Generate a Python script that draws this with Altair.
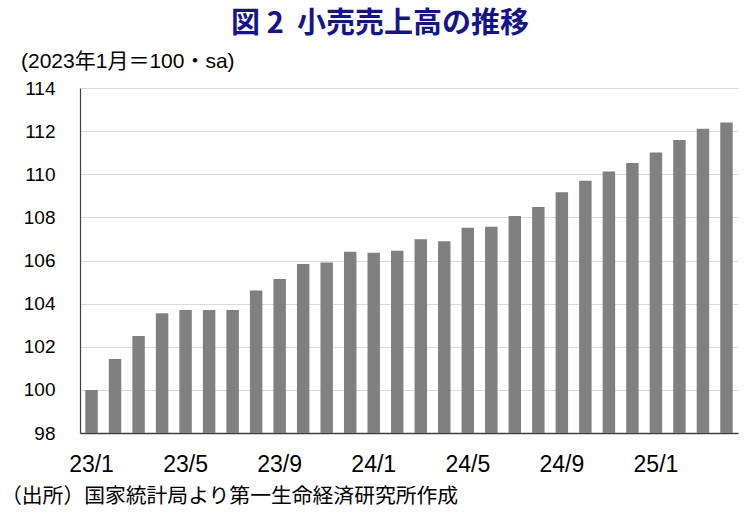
import altair as alt
import pandas as pd

months = ["23/1","23/2","23/3","23/4","23/5","23/6","23/7","23/8","23/9","23/10","23/11","23/12",
          "24/1","24/2","24/3","24/4","24/5","24/6","24/7","24/8","24/9","24/10","24/11","24/12",
          "25/1","25/2","25/3","25/4"]
values = [100.0, 101.43, 102.5, 103.55, 103.7, 103.7, 103.7, 104.61, 105.14, 105.84, 105.91, 106.41,
          106.36, 106.45, 106.98, 106.89, 107.52, 107.57, 108.06, 108.48, 109.16, 109.7, 110.13, 110.52,
          111.01, 111.59, 112.11, 112.4]
x_labels = ["23/1","23/5","23/9","24/1","24/5","24/9","25/1"]
y_ticks = [98,100,102,104,106,108,110,112,114]

title_text = "図\u00a02\u00a0\u00a0小売売上高の推移"
unit_text = "(2023年1月＝100・sa)"
source_text = "（出所）国家統計局より第一生命経済研究所作成"

df = pd.DataFrame({"month": months, "value": values})

FONT = "Liberation Sans, Noto Sans CJK JP"
JFONT = "Noto Sans CJK JP"

W, H = 658, 345

bars = alt.Chart(df).mark_bar(color="#808080", clip=True).encode(
    x=alt.X("month:N", sort=months,
            scale=alt.Scale(paddingInner=0.47, paddingOuter=0.225),
            axis=alt.Axis(values=x_labels, title=None, labelAngle=0, ticks=False,
                          labelFontSize=23, labelFont=FONT, labelColor="#000000",
                          labelPadding=20, domainColor="#404040", domainWidth=1.5)),
    y=alt.Y("value:Q", scale=alt.Scale(domain=[98, 114], nice=False, zero=False),
            axis=alt.Axis(values=y_ticks, title=None, ticks=False, labelFontSize=19,
                          labelFont=FONT, labelColor="#000000", labelPadding=25,
                          grid=True, gridColor="#d9d9d9", gridWidth=1.2,
                          domainColor="#404040", domainWidth=1.2)),
)

title = alt.Chart(pd.DataFrame({"t": [title_text]})).mark_text(
    font=JFONT, fontSize=29, fontWeight="bold", color="#14148c", align="center", baseline="middle"
).encode(text="t:N", x=alt.value(380 - 80), y=alt.value(24 - 88))

unit = alt.Chart(pd.DataFrame({"t": [unit_text]})).mark_text(
    font=FONT, fontSize=21, color="#000000", align="left", baseline="middle"
).encode(text="t:N", x=alt.value(21 - 80), y=alt.value(62 - 88))

source = alt.Chart(pd.DataFrame({"t": [source_text]})).mark_text(
    font=JFONT, fontSize=20.8, color="#000000", align="left", baseline="middle"
).encode(text="t:N", x=alt.value(1 - 80), y=alt.value(497 - 88))

chart = alt.layer(bars, title, unit, source).properties(
    width=W, height=H,
    autosize=alt.AutoSizeParams(type="none"),
    padding={"left": 80, "top": 88, "right": 12, "bottom": 87},
    background="white",
).configure_view(stroke=None)

chart.save("out.html", embed_options={"renderer": "svg", "actions": False})
